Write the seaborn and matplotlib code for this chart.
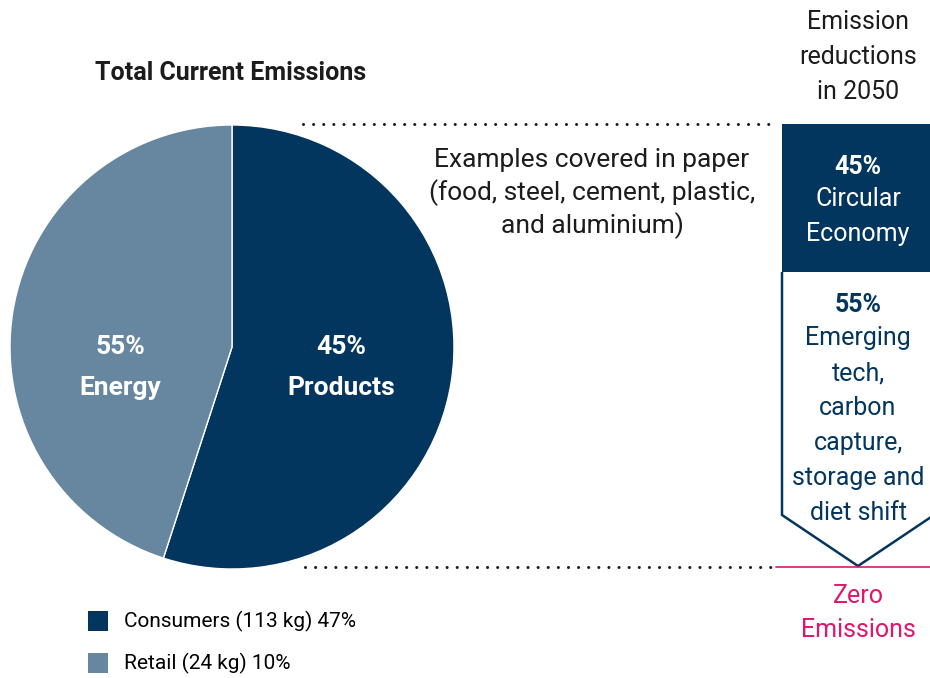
import matplotlib
matplotlib.use("Agg")
import matplotlib.pyplot as plt
from matplotlib import font_manager
from matplotlib.patches import Polygon, Rectangle
import seaborn as sns

# data
wedge_shares = [55, 45]
wedge_labels = ["45%\nProducts", "55%\nEnergy"]
legend_labels = ["Consumers (113 kg) 47%", "Retail (24 kg) 10%"]
reduction_pcts = ["45%", "55%"]
reduction_names = [["Circular", "Economy"],
                   ["Emerging", "tech,", "carbon", "capture,", "storage and", "diet shift"]]
examples_text = ["Examples covered in paper", "(food, steel, cement, plastic,", "and aluminium)"]
header_text = ["Emission", "reductions", "in 2050"]
bottom_text = ["Zero", "Emissions"]

navy = "#03365f"
slate = "#6787a1"
pink = "#e0156e"
ink = "#1c1c1c"

sns.set_theme(style="white")
installed = {f.name for f in font_manager.fontManager.ttflist}
narrow = "Liberation Sans Narrow" if "Liberation Sans Narrow" in installed else "Roboto"
plt.rcParams["font.family"] = ["Roboto", "DejaVu Sans"]

W, H = 930, 678
fig = plt.figure(figsize=(W / 100, H / 100), dpi=100)
ax = fig.add_axes([0, 0, 1, 1])


def Y(y):
    return H - y


cx, cy, r = 232, 347, 222
wedges, _ = ax.pie(wedge_shares, colors=[navy, slate], startangle=90, counterclock=False,
                   center=(cx, Y(cy)), radius=r,
                   wedgeprops=dict(edgecolor="white", linewidth=1))
ax.set_xlim(0, W)
ax.set_ylim(0, H)
ax.set_aspect("equal")
ax.axis("off")

# wedge labels
for lbl, x in zip(wedge_labels, [341, 120]):
    top, bottom = lbl.split("\n")
    ax.text(x, Y(347), top, color="white", fontsize=19, fontweight="bold",
            ha="center", va="center", family=[narrow, "DejaVu Sans"])
    ax.text(x, Y(388), bottom, color="white", fontsize=19, fontweight="bold",
            ha="center", va="center", family=[narrow, "DejaVu Sans"])

ax.text(231, Y(73), "Total Current Emissions", fontsize=18, fontweight="bold", color=ink,
        ha="center", va="center", family=[narrow, "DejaVu Sans"])

# dotted guide lines
for y, x0 in [(124, 303), (567, 305)]:
    ax.plot([x0, 776], [Y(y), Y(y)], color=ink, lw=2.2,
            linestyle=(0, (0.01, 3.3)), dash_capstyle="round")

for i, line in enumerate(examples_text):
    ax.text(592, Y(160 + 33 * i), line, fontsize=19, color=ink,
            ha="center", va="center", family=[narrow, "DejaVu Sans"])

# right column
for i, line in enumerate(header_text):
    ax.text(858, Y(22 + 35 * i), line, fontsize=18, color=ink, ha="center", va="center")

ax.add_patch(Rectangle((782, Y(272)), 160, 148, facecolor=navy, edgecolor="none"))
ax.add_patch(Polygon([(782, Y(272)), (782, Y(515)), (858, Y(566)), (940, Y(511)), (940, Y(272))],
                     closed=False, facecolor="none", edgecolor=navy, lw=1.8, joinstyle="miter"))
ax.plot([776, W], [Y(567), Y(567)], color=pink, lw=1.2)

ax.text(858, Y(167), reduction_pcts[0], fontsize=18, fontweight="bold", color="white",
        ha="center", va="center")
for i, line in enumerate(reduction_names[0]):
    ax.text(858, Y(199 + 35 * i), line, fontsize=18, color="white", ha="center", va="center")

ax.text(858, Y(305), reduction_pcts[1], fontsize=18, fontweight="bold", color=navy,
        ha="center", va="center")
for i, line in enumerate(reduction_names[1]):
    ax.text(858, Y(338 + 35 * i), line, fontsize=18, color=navy, ha="center", va="center")

for i, line in enumerate(bottom_text):
    ax.text(858, Y(596 + 34 * i), line, fontsize=18, color=pink, ha="center", va="center")

# legend
for i, (lbl, c) in enumerate(zip(legend_labels, [navy, slate])):
    ax.scatter([98], [Y(621 + 42 * i)], marker="s", s=210, color=c, linewidths=0)
    ax.text(124, Y(621 + 42 * i), lbl, fontsize=15, color="black", ha="left", va="center",
            family=[narrow, "DejaVu Sans"])

fig.savefig("out.png", dpi=100)
